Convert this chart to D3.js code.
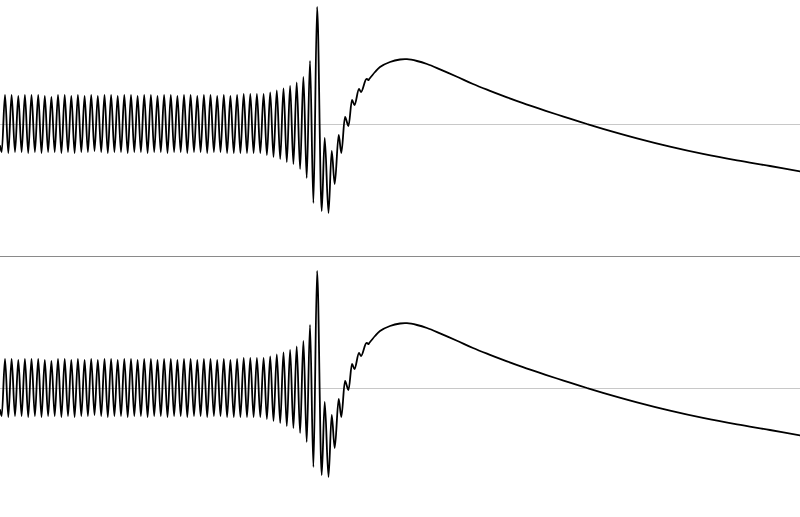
<!DOCTYPE html>
<html>
<head>
<meta charset="utf-8">
<script src="https://cdn.jsdelivr.net/npm/d3@7"></script>
<style>
  html, body { margin: 0; padding: 0; background: #fff; }
  #chart svg { display: block; }
  .zero-line { stroke: #c8c8c8; stroke-width: 1; shape-rendering: crispEdges; }
  .separator { stroke: #8a8a8a; stroke-width: 1; shape-rendering: crispEdges; }
  .wave { fill: none; stroke: #000; stroke-width: 1.8; stroke-linejoin: round; stroke-linecap: round; }
</style>
</head>
<body>
<div id="chart"></div>
<script>
// time (ms) of each extremum in the inspiral: start, then trough/peak pairs
const inspiralTimes = [
  0, 1.7, 5.0, 8.3, 11.6, 15.0, 18.3, 21.6, 24.9, 28.2, 31.5, 34.9, 38.2, 41.5, 44.8,
  48.1, 51.4, 54.7, 58.0, 61.4, 64.7, 68.0, 71.3, 74.6, 77.9, 81.3, 84.6, 87.9, 91.2,
  94.5, 97.8, 101.2, 104.5, 107.8, 111.1, 114.4, 117.7, 121.0, 124.3, 127.7, 131.0,
  134.3, 137.6, 140.9, 144.2, 147.6, 150.9, 154.2, 157.5, 160.8, 164.1, 167.5, 170.8,
  174.1, 177.4, 180.7, 184.0, 187.3, 190.6, 194.0, 197.3, 200.6, 203.9, 207.2, 210.5,
  213.9, 217.2, 220.5, 223.8, 227.1, 230.4, 233.8, 237.1, 240.4, 243.7, 247.0, 250.3,
  253.6, 256.9, 260.3, 263.6, 266.9, 270.2, 273.5, 276.8, 280.2, 283.5, 286.8, 290.1,
  293.4, 296.7, 300.1, 303.4, 306.7, 310.0, 313.4, 317.1
];
const inspiralStrain = [
  -0.22,
  -0.28, 0.29, -0.29, 0.29, -0.28, 0.28, -0.28, 0.29, -0.29, 0.29, -0.28, 0.29,
  -0.29, 0.28, -0.28, 0.27, -0.28, 0.29, -0.29, 0.29, -0.28, 0.28, -0.29, 0.29,
  -0.28, 0.28, -0.28, 0.29, -0.27, 0.28, -0.28, 0.29, -0.29, 0.29, -0.28, 0.28,
  -0.28, 0.29, -0.29, 0.29, -0.28, 0.28, -0.28, 0.29, -0.29, 0.29, -0.28, 0.28,
  -0.28, 0.29, -0.29, 0.29, -0.28, 0.28, -0.28, 0.29, -0.29, 0.29, -0.28, 0.28,
  -0.28, 0.29, -0.29, 0.29, -0.28, 0.28, -0.28, 0.29, -0.29, 0.28, -0.29, 0.29,
  -0.29, 0.30, -0.29, 0.30, -0.29, 0.30, -0.29, 0.30, -0.31, 0.315, -0.33, 0.335,
  -0.35, 0.355, -0.38, 0.38, -0.40, 0.415, -0.45, 0.47, -0.54, 0.63, -0.79, 1.17
];
// merger and ringdown wiggles
const ringdownTimes = [321.7, 324.7, 328.5, 331.7, 334.7, 338.7, 341.3, 345.0, 348.5, 352.0, 354.5, 359.0, 361.0, 366.5, 368.5];
const ringdownStrain = [-0.87, -0.14, -0.89, -0.27, -0.60, -0.11, -0.29, 0.07, -0.02, 0.24, 0.19, 0.35, 0.32, 0.45, 0.44];
// slow memory-like tail (starts at the last ringdown point)
const tailTimes = [368.5, 375, 380, 390, 400, 407, 417, 427, 440, 457, 473, 490, 507, 523, 540, 557, 570, 587, 603, 637, 670, 703, 737, 770, 800];
const tailStrain = [0.44, 0.52, 0.57, 0.62, 0.645, 0.648, 0.63, 0.60, 0.547, 0.473, 0.40, 0.332, 0.267, 0.209, 0.151, 0.095, 0.053, 0.0, -0.048, -0.143, -0.226, -0.299, -0.364, -0.42, -0.474];

const panels = ["top", "bottom"];
const timeDomain = [0, 800];
const strainDomain = [-1.24, 1.24];

(function() {
  const width = 800, height = 517;
  const panelHeight = 248, gap = 16;

  const toPoints = (ts, hs) => ts.map((t, i) => ({t: t, h: hs[i]}));
  const wiggles = toPoints(inspiralTimes.concat(ringdownTimes), inspiralStrain.concat(ringdownStrain));
  const tail = toPoints(tailTimes, tailStrain);

  const x = d3.scaleLinear().domain(timeDomain).range([0, width]);
  const y = d3.scaleLinear().domain(strainDomain).range([panelHeight, 0]);

  // monotone keeps the oscillation extrema flat; catmull-rom gives a smooth tail
  const wiggleLine = d3.line()
    .x(d => x(d.t))
    .y(d => y(d.h))
    .curve(d3.curveMonotoneX);
  const tailLine = d3.line()
    .x(d => x(d.t))
    .y(d => y(d.h))
    .curve(d3.curveCatmullRom.alpha(0.5));

  const svg = d3.select("#chart").append("svg")
    .attr("width", width)
    .attr("height", height);

  panels.forEach((name, idx) => {
    const g = svg.append("g")
      .attr("class", "panel-" + name)
      .attr("transform", "translate(0," + idx * (panelHeight + gap) + ")");

    g.append("line")
      .attr("class", "zero-line")
      .attr("x1", 0).attr("x2", width)
      .attr("y1", Math.round(y(0)) + 0.5)
      .attr("y2", Math.round(y(0)) + 0.5);

    g.append("path")
      .datum(wiggles)
      .attr("class", "wave")
      .attr("d", wiggleLine);

    g.append("path")
      .datum(tail)
      .attr("class", "wave")
      .attr("d", tailLine);
  });

  // divider between the two panels
  svg.append("line")
    .attr("class", "separator")
    .attr("x1", 0).attr("x2", width)
    .attr("y1", panelHeight + gap / 2 + 0.5)
    .attr("y2", panelHeight + gap / 2 + 0.5);
})();
</script>
</body>
</html>
